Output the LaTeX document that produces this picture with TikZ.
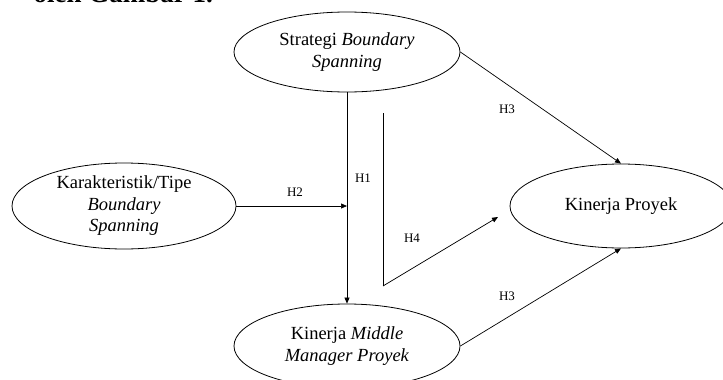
\documentclass[tikz,border=0pt]{standalone}
\usepackage{fontspec}
\setmainfont{Liberation Serif}
\usetikzlibrary{shapes.geometric,arrows.meta}
\tikzset{
  var/.style={draw, ellipse, line width=0.8pt, inner sep=0pt, align=center,
    font=\fontsize{18.5}{21.5}\selectfont},
  lbl/.style={font=\fontsize{13}{15}\selectfont, inner sep=0pt},
  link/.style={line width=0.7pt},
  arr/.style={link, -{Triangle[length=6pt,width=5pt]}}
}
\begin{document}
\begin{tikzpicture}[x=1pt,y=-1pt]
\useasboundingbox (0,0) rectangle (723,380);
\node[anchor=base east, inner sep=0pt, font=\fontsize{27}{30}\selectfont\bfseries] (cap) at (213,2.5) {oleh Gambar 1.};
\node[var, minimum width=226pt, minimum height=80pt] (top) at (347,52) {Strategi \textit{Boundary}\\\textit{Spanning}};
\node[var, minimum width=224pt, minimum height=86pt] (left) at (124,206) {Karakteristik/Tipe\\\textit{Boundary}\\\textit{Spanning}};
\node[var, minimum width=222pt, minimum height=84pt] (right) at (621,206) {Kinerja Proyek};
\node[var, minimum width=226pt, minimum height=84pt] (bot) at (347,346) {Kinerja \textit{Middle}\\\textit{Manager Proyek}};
\coordinate (h4a) at (383,113);
\coordinate (h4b) at (383,286);
\coordinate (h4c) at (498,217);
\draw[arr] (top.south) -- (bot.north);
\draw[arr] (left.east) -- (left.east -| top.south);
\draw[arr] (top.east) -- (right.north);
\draw[arr] (bot.east) -- (right.south);
\draw[link] (h4a) -- (h4b);
\draw[arr] (h4b) -- (h4c);
\node[lbl] (l1) at (363,178) {H1};
\node[lbl] (l2) at (295,192) {H2};
\node[lbl] (l3) at (507,109) {H3};
\node[lbl] (l3b) at (507,296) {H3};
\node[lbl] (l4) at (412,238) {H4};
\end{tikzpicture}
\end{document}
